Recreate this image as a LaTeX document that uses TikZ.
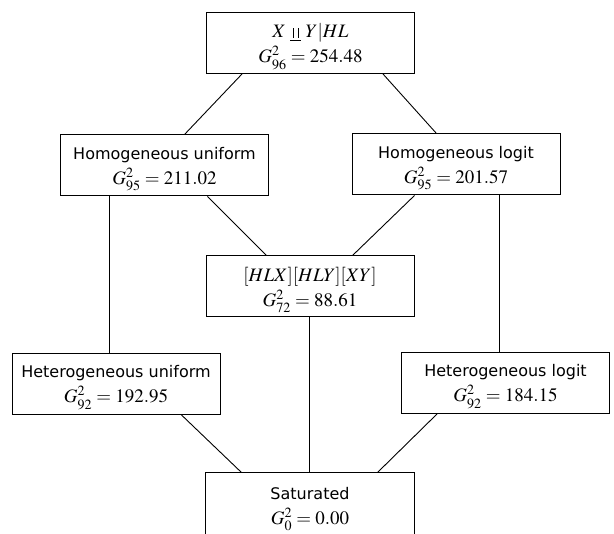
\documentclass[tikz,border=0pt]{standalone}
\usepackage{mathptmx}
\usepackage[no-math]{fontspec}
\newfontfamily\labfont{DejaVu Sans}
\newcommand{\indepsym}{\mathrel{\underline{\hbox{\kern0.15em\rule{0.05em}{0.5em}\kern0.2em\rule{0.05em}{0.5em}\kern0.15em}}}}
\newcommand{\lbl}[1]{{\labfont\fontsize{16}{25}\selectfont #1}}
\newcommand{\gsq}[1]{G^{2}_{\vphantom{|}#1}}
\begin{document}
\begin{tikzpicture}[x=1pt,y=-1pt,
  box/.style={draw, line width=1pt, minimum width=208pt, minimum height=61pt, inner sep=0pt, text depth=0pt, align=center, font=\fontsize{19}{25}\selectfont},
  openbox/.style={box, draw=none, minimum height=65pt},
  link/.style={line width=0.9pt}]
\clip (0,0) rectangle (614,534);
\useasboundingbox (0,0) rectangle (614,534);
\node[box] (top) at (310.5,43) {$X \indepsym Y|HL$\\$\gsq{96} = 254.48$};
\node[box] (hu) at (164.5,165.5) {\lbl{Homogeneous uniform}\\$\gsq{95} = 211.02$};
\node[box] (hl) at (456,164.5) {\lbl{Homogeneous logit}\\$\gsq{95} = 201.57$};
\node[box] (mid) at (310,286.5) {$[HLX][HLY][XY]$\\$\gsq{72} = 88.61$};
\node[box] (hetu) at (116,384) {\lbl{Heterogeneous uniform}\\$\gsq{92} = 192.95$};
\node[box] (hetl) at (505.5,383) {\lbl{Heterogeneous logit}\\$\gsq{92} = 184.15$};
\node[openbox] (sat) at (310,505.5) {\lbl{Saturated}\\$\gsq{0} = 0.00$};
\draw[line width=1pt] (sat.south west) -- (sat.north west) -- (sat.north east) -- (sat.south east);
\draw[link] ([xshift=36pt]top.south west) -- ([xshift=124.5pt]hu.north west);
\draw[link] ([xshift=177pt]top.south west) -- ([xshift=85pt]hl.north west);
\draw[link] ([xshift=147.5pt]hu.south west) -- ([xshift=61pt]mid.north west);
\draw[link] ([xshift=63pt]hl.south west) -- ([xshift=147pt]mid.north west);
\draw[link] ([xshift=49pt]hu.south west) -- ([xshift=97.5pt]hetu.north west);
\draw[link] ([xshift=148pt]hl.south west) -- ([xshift=98.5pt]hetl.north west);
\draw[link] ([xshift=104pt]mid.south west) -- ([xshift=104pt]sat.north west);
\draw[link] ([xshift=170pt]hetu.south west) -- ([xshift=36pt]sat.north west);
\draw[link] ([xshift=36pt]hetl.south west) -- ([xshift=172pt]sat.north west);
\end{tikzpicture}
\end{document}
